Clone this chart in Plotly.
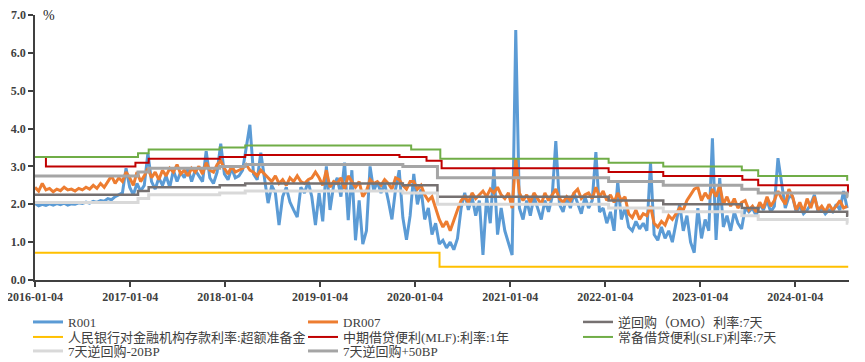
import pandas as pd
import plotly.graph_objects as go

# ---------------- data ----------------
# bi-weekly observation grid (2016-01-04 .. 2024-07-22)
obs_dates = pd.date_range("2016-01-04", periods=224, freq="14D")

r001_2016 = [2.02,1.96,2.00,1.97,2.01,1.98,2.02,1.99,2.03,1.98,2.01,2.00,2.04,2.02,2.06,2.03,2.08,2.05,2.10,2.08,2.15,2.12,2.20,2.25,2.30,2.95]
r001_2017 = [2.45,2.25,2.55,2.35,2.50,3.35,2.60,2.40,2.70,2.50,2.75,2.45,2.90,2.60,2.85,2.70,2.95,2.60,2.90,2.75,2.60,3.40,2.70,2.55,2.85,3.60]
r001_2018 = [2.80,2.65,2.95,2.70,2.75,2.90,3.50,4.10,2.80,2.65,3.36,2.70,2.03,2.50,2.30,1.45,2.20,2.45,2.06,1.85,1.66,2.45,2.30,2.60,2.20,1.45]
r001_2019 = [2.30,1.55,3.00,1.85,2.50,2.70,2.20,3.10,1.58,2.90,1.05,2.10,0.95,1.30,3.00,2.35,2.60,2.30,2.55,2.10,1.60,2.40,2.90,1.65,1.06,1.70]
r001_2020 = [2.80,2.00,2.40,1.60,1.90,1.20,1.50,0.95,1.05,0.85,1.00,0.80,1.10,1.90,2.30,1.85,2.20,1.70,2.10,0.66,2.20,1.50,2.96,1.20,1.90,1.30]
r001_2021 = [1.00,0.66,6.60,1.90,1.60,2.10,1.70,2.20,1.90,1.60,2.10,1.80,2.20,3.67,2.00,1.80,2.20,1.90,2.30,2.00,1.75,2.20,1.90,2.10,3.38,1.80]
r001_2022 = [1.90,1.50,1.80,1.30,2.60,1.60,1.90,1.40,1.30,1.55,1.35,1.50,1.30,3.10,1.20,1.05,1.40,1.10,1.30,1.00,1.50,2.00,1.30,1.70,1.00,0.72]
r001_2023 = [1.90,1.10,1.60,1.30,3.74,1.06,2.69,1.40,1.70,1.30,1.80,1.50,1.35,1.90,1.80,1.90,1.70,2.00,1.85,2.10,1.80,1.95,3.22,2.50,1.90,2.20]
r001_2024 = [2.20,1.80,1.95,1.75,1.85,2.00,2.25,1.80,1.90,1.75,1.85,1.80,2.00,1.85,2.35,1.90]

dr007_2016 = [2.45,2.35,2.55,2.38,2.42,2.33,2.40,2.36,2.45,2.38,2.40,2.35,2.42,2.38,2.45,2.40,2.50,2.42,2.55,2.45,2.60,2.75,2.55,2.70,2.60,2.85]
dr007_2017 = [2.70,2.50,2.85,2.60,2.75,2.95,2.70,2.85,2.65,2.90,2.75,2.95,2.85,3.05,2.80,2.90,2.75,2.95,2.85,3.00,2.80,3.10,2.90,2.85,3.05,3.15]
dr007_2018 = [2.95,2.80,3.00,2.85,2.90,2.95,3.05,2.90,2.85,2.75,2.90,2.80,2.70,2.60,2.75,2.55,2.65,2.50,2.70,2.60,2.75,2.60,2.55,2.65,2.70,2.85]
dr007_2019 = [2.70,2.50,2.90,2.45,2.60,2.55,2.70,2.40,2.75,2.60,2.45,2.60,2.20,2.35,2.65,2.55,2.60,2.50,2.65,2.55,2.40,2.70,2.65,2.50,2.40,2.60]
dr007_2020 = [2.60,2.40,2.50,2.25,2.10,2.20,1.90,1.60,1.40,1.55,1.30,1.60,1.85,2.10,2.20,2.05,2.30,2.15,2.25,2.35,2.20,2.40,2.30,2.45,2.25,2.15]
dr007_2021 = [2.30,1.90,3.20,2.30,2.10,2.25,2.05,2.30,2.15,2.00,2.30,2.10,2.25,2.40,2.15,2.05,2.20,2.10,2.30,2.40,2.15,2.25,2.30,2.15,2.45,2.20]
dr007_2022 = [2.35,2.10,2.25,2.05,2.30,2.10,2.20,1.75,1.65,1.85,1.60,1.75,1.70,1.95,1.50,1.40,1.55,1.45,1.70,1.60,1.75,1.90,1.85,2.10,2.25,2.40]
dr007_2023 = [2.45,2.10,2.30,2.15,2.40,2.20,2.50,2.00,2.20,1.95,2.15,1.90,2.05,2.10,1.85,1.95,1.80,2.05,1.90,2.20,1.95,2.10,2.35,2.15,2.00,2.40]
dr007_2024 = [2.20,1.85,2.05,1.80,2.15,1.90,2.20,1.85,1.95,1.80,2.00,1.85,1.95,2.10,1.90,1.95]

r001 = r001_2016 + r001_2017 + r001_2018 + r001_2019 + r001_2020 + r001_2021 + r001_2022 + r001_2023 + r001_2024
dr007 = dr007_2016 + dr007_2017 + dr007_2018 + dr007_2019 + dr007_2020 + dr007_2021 + dr007_2022 + dr007_2023 + dr007_2024

# policy rates (step series: change dates and new levels)
omo_dates = ["2016-01-04","2017-02-03","2017-03-16","2017-12-14","2018-03-22","2019-11-18","2020-03-30","2022-01-17","2022-08-15","2023-06-13","2023-08-15","2024-07-22","2024-07-26"]
omo_7d    = [2.25, 2.35, 2.45, 2.50, 2.55, 2.50, 2.20, 2.10, 2.00, 1.90, 1.80, 1.70, 1.70]
omo_minus20 = [2.05, 2.15, 2.25, 2.30, 2.35, 2.30, 2.00, 1.90, 1.80, 1.70, 1.60, 1.50, 1.50]
omo_plus50  = [2.75, 2.85, 2.95, 3.00, 3.05, 3.00, 2.70, 2.60, 2.50, 2.40, 2.30, 2.20, 2.20]

ioer_dates = ["2016-01-04","2020-04-07","2024-07-26"]
ioer = [0.72, 0.35, 0.35]

mlf_dates = ["2016-01-04","2016-02-15","2017-01-24","2017-03-16","2017-12-14","2018-03-22","2019-11-05","2020-02-17","2020-04-15","2022-01-17","2022-08-15","2023-06-15","2023-08-15","2024-07-25","2024-07-26"]
mlf_1y = [3.25, 3.00, 3.10, 3.20, 3.25, 3.30, 3.25, 3.15, 2.95, 2.85, 2.75, 2.65, 2.50, 2.30, 2.30]

slf_dates = ["2016-01-04","2017-02-03","2017-03-16","2017-12-14","2018-03-22","2019-12-20","2020-04-10","2022-01-17","2022-08-15","2023-06-13","2023-08-15","2024-07-22","2024-07-26"]
slf_7d = [3.25, 3.35, 3.45, 3.50, 3.55, 3.45, 3.20, 3.10, 3.00, 2.90, 2.75, 2.65, 2.65]

x_ticks = ["2016-01-04","2017-01-04","2018-01-04","2019-01-04","2020-01-04","2021-01-04","2022-01-04","2023-01-04","2024-01-04"]
y_ticks = [0, 1, 2, 3, 4, 5, 6, 7]
y_ticktext = ["0.0", "1.0", "2.0", "3.0", "4.0", "5.0", "6.0", ""]
y_top_label = "7.0"   # top tick label, drawn as text at the axis top

names = ["R001", "DR007", "逆回购（OMO）利率:7天", "人民银行对金融机构存款利率:超额准备金",
         "中期借贷便利(MLF):利率:1年", "常备借贷便利(SLF)利率:7天", "7天逆回购-20BP", "7天逆回购+50BP"]

# ---------------- figure ----------------
SERIF = "Times New Roman, Liberation Serif, Noto Sans CJK SC, serif"
TXT = "#404040"

fig = go.Figure()
fig.add_trace(go.Scatter(x=obs_dates, y=r001, name=names[0], mode="lines", legend="legend",
                         line=dict(color="#5B9BD5", width=3)))
fig.add_trace(go.Scatter(x=obs_dates, y=dr007, name=names[1], mode="lines", legend="legend",
                         line=dict(color="#ED7D31", width=3)))
fig.add_trace(go.Scatter(x=omo_dates, y=omo_7d, name=names[2], mode="lines", legend="legend",
                         line=dict(color="#767171", width=2.5, shape="hv")))
fig.add_trace(go.Scatter(x=ioer_dates, y=ioer, name=names[3], mode="lines", legend="legend2",
                         line=dict(color="#FFC000", width=2, shape="hv")))
fig.add_trace(go.Scatter(x=mlf_dates, y=mlf_1y, name=names[4], mode="lines", legend="legend2",
                         line=dict(color="#C00000", width=2, shape="hv")))
fig.add_trace(go.Scatter(x=slf_dates, y=slf_7d, name=names[5], mode="lines", legend="legend2",
                         line=dict(color="#70AD47", width=2, shape="hv")))
fig.add_trace(go.Scatter(x=omo_dates, y=omo_minus20, name=names[6], mode="lines", legend="legend3",
                         line=dict(color="#D9D9D9", width=3, shape="hv")))
fig.add_trace(go.Scatter(x=omo_dates, y=omo_plus50, name=names[7], mode="lines", legend="legend3",
                         line=dict(color="#A5A5A5", width=3, shape="hv")))

# page has an 8px body margin, so the figure is a bit smaller than the window
W, H = 857, 354
M_L, M_R, M_T, M_B = 27, 16, 7, 82
plot_h = H - M_T - M_B          # 265
plot_w = W - M_L - M_R          # 814
plot_bottom_page = 8 + H - M_B  # 280

def row_legend(y_px):
    # y_px: row centre in page pixels -> paper coords
    y_paper = (plot_bottom_page - y_px) / plot_h
    return dict(orientation="h", x=-0.0086, xanchor="left", y=y_paper, yanchor="middle",
                entrywidth=230, entrywidthmode="pixels", itemwidth=30,
                font=dict(family=SERIF, size=13, color=TXT),
                bgcolor="rgba(0,0,0,0)", traceorder="normal")

tick_font = dict(family=SERIF, size=12, color=TXT, weight="bold")

fig.update_layout(
    width=W, height=H,
    margin=dict(l=M_L, r=M_R, t=M_T, b=M_B, autoexpand=False),
    paper_bgcolor="white", plot_bgcolor="white",
    font=dict(family=SERIF, size=13, color=TXT),
    showlegend=True,
    legend=row_legend(322),
    legend2=row_legend(337),
    legend3=row_legend(351),
    xaxis=dict(type="date", range=["2016-01-04", "2024-07-29"],
               tickvals=x_ticks, tickformat="%Y-%m-%d",
               showgrid=False, zeroline=False,
               showline=True, linecolor=TXT, linewidth=1.5,
               ticks="outside", ticklen=5, tickcolor=TXT, tickwidth=1.5,
               ticklabeloverflow="allow", tickfont=tick_font),
    yaxis=dict(range=[0, 7], tickmode="array", tickvals=y_ticks, ticktext=y_ticktext,
               showgrid=False, zeroline=False,
               showline=True, linecolor=TXT, linewidth=1.5,
               ticks="outside", ticklen=5, tickcolor=TXT, tickwidth=1.5,
               ticklabeloverflow="allow", tickfont=tick_font),
    annotations=[
        dict(text="%", xref="paper", yref="paper", x=0.0172, y=1.0,
             xanchor="center", yanchor="middle", showarrow=False,
             font=dict(family=SERIF, size=14, color="#262626")),
        dict(text=y_top_label, xref="paper", yref="paper", x=-8.0 / plot_w, y=1.0,
             xanchor="right", yanchor="middle", showarrow=False, borderpad=0,
             font=tick_font),
    ],
)

fig.write_html("out.html")
